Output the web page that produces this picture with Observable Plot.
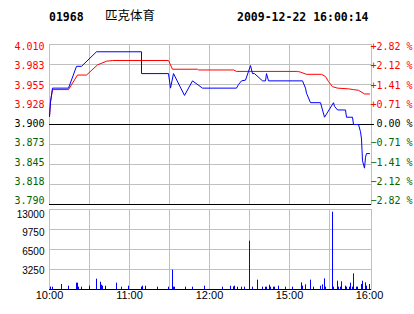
<!DOCTYPE html>
<html><head><meta charset="utf-8">
<script src="https://cdn.jsdelivr.net/npm/d3@7"></script>
<script src="https://cdn.jsdelivr.net/npm/@observablehq/plot@0.6"></script>
<style>
body{margin:0;background:#fff;}
#wrap{position:relative;width:414px;height:314px;overflow:hidden;background:#fff;}
#wrap svg{position:absolute;left:0;}
.t{position:absolute;font:bold 11.5px "DejaVu Sans Mono",monospace;color:#000;line-height:18px;white-space:pre;}
</style></head><body>
<div id="wrap">
 <span class="t" style="left:49px;top:8px">01968</span>
 <span class="t" style="left:105px;top:6px;font:12.5px 'Noto Sans CJK SC',sans-serif;line-height:18px">匹克体育</span>
 <span class="t" style="left:237px;top:8px">2009-12-22 16:00:14</span>
</div>
<script>
// ---- data ----
const prevClose = 3.900;
const priceTimes = ["10:00","10:01","10:02","10:14","10:20","10:24","10:35","11:09","11:09","11:29","11:31","11:33","11:41","11:47","11:55","12:20","12:22","12:24","12:27","12:29","14:31","14:32","14:34","14:40","14:42","14:43","14:44","15:10","15:12","15:13","15:16","15:23","15:26","15:33","15:34","15:36","15:42","15:43","15:47","15:48","15:52","15:53","15:54","15:55","15:56","15:57","15:58","16:00"];
const prices = [3.911,3.931,3.950,3.950,3.980,3.980,4.000,4.000,3.970,3.970,3.950,3.970,3.940,3.960,3.950,3.950,3.955,3.960,3.961,3.973,3.981,3.970,3.970,3.960,3.960,3.970,3.960,3.960,3.950,3.943,3.930,3.930,3.910,3.930,3.925,3.920,3.920,3.910,3.910,3.900,3.900,3.890,3.880,3.850,3.840,3.855,3.860,3.860];
const avgTimes = ["10:00","10:01","10:02","10:14","10:21","10:28","10:36","10:43","10:47","11:29","11:32","11:51","11:52","12:18","12:20","15:06","15:08","15:13","15:24","15:27","15:29","15:32","15:36","15:44","15:48","15:52","15:56","16:00"];
const avgPrices = [3.911,3.931,3.948,3.948,3.968,3.968,3.982,3.987,3.988,3.988,3.976,3.976,3.975,3.975,3.973,3.973,3.972,3.969,3.969,3.966,3.959,3.952,3.950,3.949,3.948,3.947,3.942,3.942];
const volTimes = ["10:01","10:02","10:09","10:14","10:20","10:21","10:22","10:24","10:30","10:35","10:38","10:39","10:40","10:42","10:50","10:54","10:59","11:09","11:10","11:12","11:21","11:29","11:32","11:33","11:34","11:42","11:47","11:56","12:10","12:16","12:18","12:19","12:21","12:24","12:26","14:30","14:32","14:36","14:40","14:42","14:43","14:45","14:46","14:48","14:49","14:52","14:57","15:02","15:09","15:10","15:12","15:16","15:18","15:23","15:25","15:26","15:27","15:32","15:33","15:36","15:37","15:38","15:39","15:42","15:43","15:45","15:46","15:47","15:48","15:50","15:51","15:54","15:55","15:57","15:58","16:00"];
const volumes = [400,380,810,540,1030,1030,380,380,540,1680,1190,700,540,540,1030,380,540,380,540,540,380,380,3140,380,380,380,380,540,380,540,430,540,380,380,380,7850,380,1520,380,380,380,700,380,380,380,540,380,380,1080,540,760,1520,380,540,760,1730,380,12570,380,1350,380,380,1250,540,380,380,1030,380,2540,380,380,810,1350,1080,540,810];
const priceTicks = [4.010,3.9825,3.955,3.9275,3.900,3.8725,3.845,3.8175,3.790];
const priceLabels = ["4.010","3.983","3.955","3.928","3.900","3.873","3.845","3.818","3.790"];
const pctLabels = ["+2.82 %","+2.12 %","+1.41 %","+0.71 %","\u00a00.00 %","\u22120.71 %","\u22121.41 %","\u22122.12 %","\u22122.82 %"];
const volTicks = [13000,9750,6500,3250];
const volLabels = ["13000","9750","6500","3250"];
const gridTimes = ["10:30","11:00","11:30","12:00","12:30","15:00","15:30"];
const xLabels = ["10:00","11:00","12:00","15:00","16:00"];

// ---- helpers ----
function toMin(s){const [h,m]=s.split(":").map(Number);let t=(h-10)*60+m;if(h>=14)t-=120;return t;}
const priceData = priceTimes.map((t,i)=>({t:toMin(t),p:prices[i]}));
const avgData = avgTimes.map((t,i)=>({t:toMin(t),p:avgPrices[i]}));
const volData = volTimes.map((t,i)=>({t:toMin(t),v:volumes[i]}));
const RED="#ff0000", BLUE="#0000ff", GREEN="#006400", GRID="#c0c0c0";
const labelColor = v => Math.abs(v-prevClose)<1e-9 ? "#000" : (v>prevClose ? RED : GREEN);
const W=414, XMAX=241.5;
const mono="DejaVu Sans Mono", sans="Liberation Sans";

// axis labels are spread slightly tighter than the grid, as in the original
const priceLabelMarks = priceTicks.flatMap((d,i) => {
  const dy = 2.5 - 0.75*i;
  return [
    Plot.text([d], {y: v => v, text: () => priceLabels[i], frameAnchor: "left", textAnchor: "end", dx: -5, dy, fill: labelColor(d), fontFamily: mono, fontSize: 10}),
    Plot.text([d], {y: v => v, text: () => pctLabels[i], frameAnchor: "right", textAnchor: "start", dx: -1, dy, fill: labelColor(d), fontFamily: mono, fontSize: 10})
  ];
});
const volLabelMarks = volTicks.map((d,i) =>
  Plot.text([d], {y: v => v, text: () => volLabels[i], frameAnchor: "left", textAnchor: "end", dx: -5, dy: 4.9 - 1.33*i, fill: "#000", fontFamily: sans, fontSize: 10})
);

const priceSvg = Plot.plot({
  width: W, height: 172,
  marginLeft: 49, marginRight: 43, marginTop: 10, marginBottom: 2,
  style: {background: "transparent", overflow: "visible"},
  x: {domain: [0, XMAX], round: true, axis: null},
  y: {domain: [3.79, 4.01], axis: null},
  marks: [
    Plot.ruleY(priceTicks.filter(d => d !== prevClose && d !== 3.790), {stroke: GRID}),
    Plot.ruleX(gridTimes, {x: toMin, stroke: GRID}),
    Plot.frame({stroke: GRID}),
    Plot.ruleY([prevClose, 3.790], {stroke: "#000"}),
    Plot.ruleY([prevClose], {x1: () => XMAX, x2: () => XMAX + 2.2, stroke: "#000"}),
    Plot.line(avgData, {x: "t", y: "p", stroke: RED, strokeWidth: 1}),
    Plot.line(priceData, {x: "t", y: "p", stroke: BLUE, strokeWidth: 1}),
    ...priceLabelMarks
  ]
});
priceSvg.style.top = "34px";

const volSvg = Plot.plot({
  width: W, height: 114,
  marginLeft: 49, marginRight: 43, marginTop: 9, marginBottom: 25,
  style: {background: "transparent", overflow: "visible"},
  x: {domain: [0, XMAX], round: true, axis: null},
  y: {domain: [0, 13000], axis: null},
  marks: [
    Plot.ruleY(volTicks.slice(1), {stroke: GRID}),
    Plot.ruleX(gridTimes, {x: toMin, stroke: GRID}),
    Plot.frame({stroke: GRID}),
    Plot.ruleX(volData, {x: "t", y1: d => 0, y2: "v", stroke: BLUE, strokeWidth: 1}),
    Plot.ruleY([0], {stroke: "#000"}),
    ...volLabelMarks,
    Plot.text(xLabels, {x: toMin, text: d => d, frameAnchor: "bottom", dy: 9, fill: "#000", fontFamily: sans, fontSize: 11})
  ]
});
volSvg.style.top = "200px";

const wrap = document.getElementById("wrap");
wrap.appendChild(priceSvg);
wrap.appendChild(volSvg);
</script>
</body></html>
